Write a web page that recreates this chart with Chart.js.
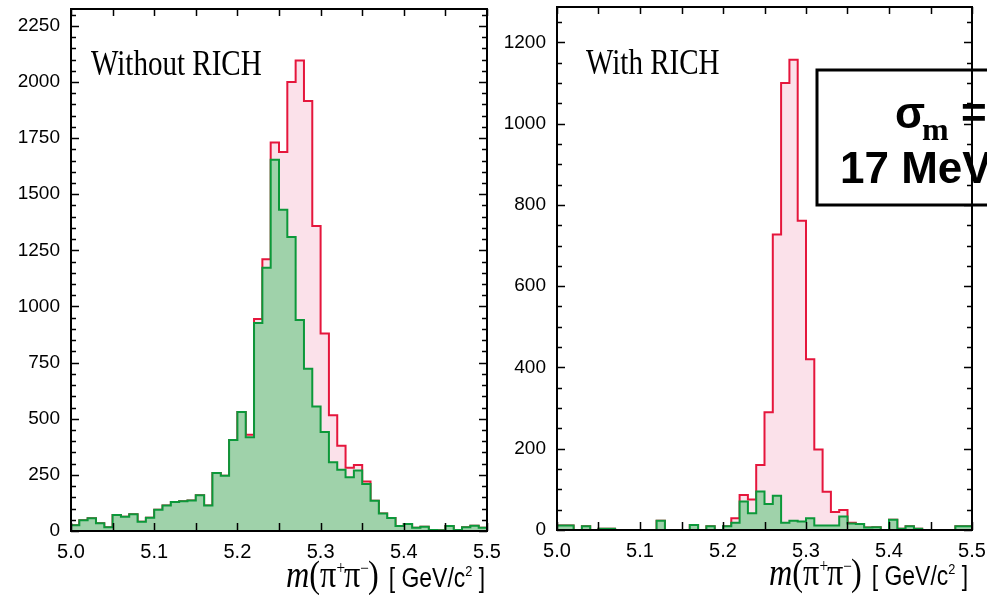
<!DOCTYPE html>
<html>
<head>
<meta charset="utf-8">
<script src="https://cdn.jsdelivr.net/npm/chart.js@4/dist/chart.umd.min.js"></script>
<style>
  html, body { margin: 0; padding: 0; background: #fff; }
  #wrap { position: relative; width: 987px; height: 595px; overflow: hidden; }
  canvas { position: absolute; top: 0; }
</style>
</head>
<body>
<div id="wrap">
  <canvas id="leftChart" width="500" height="595" style="left:0"></canvas>
  <canvas id="rightChart" width="487" height="595" style="left:500px"></canvas>
</div>
<script>
// bin low edges, GeV/c^2 (last entry is the upper edge of the last bin)
const binEdges = [5.00, 5.01, 5.02, 5.03, 5.04, 5.05, 5.06, 5.07, 5.08, 5.09,
                  5.10, 5.11, 5.12, 5.13, 5.14, 5.15, 5.16, 5.17, 5.18, 5.19,
                  5.20, 5.21, 5.22, 5.23, 5.24, 5.25, 5.26, 5.27, 5.28, 5.29,
                  5.30, 5.31, 5.32, 5.33, 5.34, 5.35, 5.36, 5.37, 5.38, 5.39,
                  5.40, 5.41, 5.42, 5.43, 5.44, 5.45, 5.46, 5.47, 5.48, 5.49, 5.50];

// Without RICH: all candidates (red) and the pi-pi part (green)
const noRichAll = [26, 48, 57, 35, 17, 71, 64, 75, 41, 59,
                   95, 114, 129, 132, 136, 159, 114, 258, 246, 405,
                   530, 429, 944, 1210, 1730, 1688, 2000, 2096, 1915, 1358,
                   880, 516, 380, 282, 294, 220, 135, 78, 58, 22,
                   31, 15, 19, 4, 3, 22, 4, 17, 23, 15];
const noRichPid = [26, 48, 57, 35, 17, 71, 64, 75, 41, 59,
                   95, 114, 129, 132, 136, 159, 114, 258, 246, 405,
                   530, 418, 926, 1173, 1654, 1431, 1309, 940, 723, 554,
                   441, 306, 273, 239, 270, 209, 135, 78, 58, 22,
                   31, 15, 19, 4, 3, 22, 4, 17, 23, 15];

// With RICH
const richAll = [11, 11, 0, 9, 0, 3, 3, 0, 0, 0,
                 0, 0, 23, 0, 0, 0, 12, 0, 9, 0,
                 9, 29, 86, 75, 160, 290, 727, 1100, 1157, 761,
                 420, 198, 94, 44, 49, 18, 15, 6, 7, 0,
                 25, 3, 9, 3, 0, 0, 0, 0, 9, 9];
const richPid = [11, 11, 0, 9, 0, 3, 3, 0, 0, 0,
                 0, 0, 23, 0, 0, 0, 12, 0, 9, 0,
                 9, 18, 70, 41, 95, 64, 84, 18, 23, 21,
                 29, 11, 11, 11, 33, 16, 15, 6, 7, 0,
                 25, 3, 9, 3, 0, 0, 0, 0, 9, 9];

const xTickLabels = [5.0, 5.1, 5.2, 5.3, 5.4, 5.5];
const xMinorTicks = [5.0, 5.05, 5.1, 5.15, 5.2, 5.25, 5.3, 5.35, 5.4, 5.45, 5.5];
const yTicksLeft = [0, 250, 500, 750, 1000, 1250, 1500, 1750, 2000, 2250];
const yTicksRight = [0, 200, 400, 600, 800, 1000, 1200];

const RED = '#e5163c';
const PINK = '#fbe1ea';
const GREEN = '#0c983a';
const GREEN_FILL = '#9fd2aa';

function stepPoints(vals) {
    const pts = vals.map((v, i) => ({ x: binEdges[i], y: v }));
    pts.push({ x: binEdges[binEdges.length - 1], y: vals[vals.length - 1] });
    return pts;
}

// draw a string squeezed horizontally (the original fonts are narrow)
function narrowText(ctx, text, x, y, font, sx) {
    ctx.save();
    ctx.font = font;
    ctx.translate(x, y);
    ctx.scale(sx, 1);
    ctx.fillText(text, 0, 0);
    const w = ctx.measureText(text).width * sx;
    ctx.restore();
    return w;
}

function drawMassTitle(ctx, x, y) {
    const serif = 'px "Liberation Serif", "Times New Roman", serif';
    const sans = 'px "Liberation Sans", Arial, sans-serif';
    const s = 0.85;
    ctx.fillStyle = '#000';
    ctx.textBaseline = 'alphabetic';
    ctx.textAlign = 'left';
    x += narrowText(ctx, 'm', x, y, 'italic 38' + serif, s);
    x += narrowText(ctx, '(', x, y, '38' + serif, s);
    x += narrowText(ctx, 'π', x, y, '38' + serif, s);
    x += narrowText(ctx, '+', x, y - 13, '18' + serif, s) - 1;
    x += narrowText(ctx, 'π', x, y, '38' + serif, s);
    x += narrowText(ctx, '−', x, y - 13, '18' + serif, s) - 1;
    x += narrowText(ctx, ')', x, y, '38' + serif, s);
    x += 10;
    x += narrowText(ctx, '[ GeV/c', x, y, '27' + sans, s);
    x += narrowText(ctx, '2', x, y - 11, '15' + sans, s);
    narrowText(ctx, ' ]', x, y, '27' + sans, s);
}

const framePlugin = {
    id: 'frame',
    afterDatasetsDraw(chart, args, opts) {
        if (!opts.box) return;
        const ctx = chart.ctx;
        const b = opts.box;
        ctx.save();
        ctx.fillStyle = '#fff';
        ctx.fillRect(b.x, b.y, b.w, b.h);
        ctx.strokeStyle = '#000';
        ctx.lineWidth = 3;
        ctx.strokeRect(b.x, b.y, b.w, b.h);
        ctx.fillStyle = '#000';
        ctx.textBaseline = 'alphabetic';
        ctx.font = 'bold 44px "Liberation Sans", Arial, sans-serif';
        ctx.fillText('σ', b.x + 78, b.y + 58);
        ctx.font = 'bold 32px "Liberation Serif", "Times New Roman", serif';
        ctx.fillText('m', b.x + 105, b.y + 70);
        ctx.font = 'bold 44px "Liberation Sans", Arial, sans-serif';
        ctx.fillText('=', b.x + 144, b.y + 58);
        ctx.fillText('17 MeV/c²', b.x + 23, b.y + 113);
        ctx.restore();
    },
    afterDraw(chart, args, opts) {
        const ctx = chart.ctx;
        const { left, right, top, bottom } = chart.chartArea;
        const xs = chart.scales.x, ys = chart.scales.y;
        ctx.save();
        ctx.strokeStyle = '#000';
        ctx.lineWidth = 2;
        ctx.strokeRect(left, top, right - left, bottom - top);

        ctx.lineWidth = 1.5;
        ctx.beginPath();
        xMinorTicks.forEach(v => {
            const px = Math.round(xs.getPixelForValue(v)) + 0.5;
            ctx.moveTo(px, bottom); ctx.lineTo(px, bottom - 8);
            ctx.moveTo(px, top); ctx.lineTo(px, top + 7);
        });
        for (let v = 0; v <= ys.max; v += 50) {
            const py = Math.round(ys.getPixelForValue(v)) + 0.5;
            const len = opts.majorY.includes(v) ? 8 : 5;
            ctx.moveTo(left, py); ctx.lineTo(left + len, py);
            ctx.moveTo(right, py); ctx.lineTo(right - len, py);
        }
        ctx.stroke();

        ctx.fillStyle = '#000';
        ctx.textBaseline = 'alphabetic';
        narrowText(ctx, opts.label, opts.labelX, opts.labelY,
                   '35px "Liberation Serif", "Times New Roman", serif', 0.83);
        drawMassTitle(ctx, opts.titleX, opts.titleY);
        ctx.restore();
    }
};

function makePanel(id, allVals, pidVals, yMajor, yMax, pad, yWidth, xHeight, opts) {
    return new Chart(document.getElementById(id), {
        type: 'line',
        data: {
            datasets: [
                {
                    data: stepPoints(pidVals),
                    borderColor: GREEN,
                    backgroundColor: GREEN_FILL,
                    fill: 'origin',
                    borderWidth: 2,
                    stepped: true,
                    pointRadius: 0
                },
                {
                    data: stepPoints(allVals),
                    borderColor: RED,
                    backgroundColor: PINK,
                    fill: 'origin',
                    borderWidth: 2,
                    stepped: true,
                    pointRadius: 0
                }
            ]
        },
        options: {
            responsive: false,
            animation: false,
            layout: { padding: pad },
            plugins: {
                legend: { display: false },
                tooltip: { enabled: false },
                frame: opts
            },
            scales: {
                x: {
                    type: 'linear',
                    min: 5.0,
                    max: 5.5,
                    grid: { display: false, drawTicks: false },
                    border: { display: false },
                    afterBuildTicks: s => { s.ticks = xTickLabels.map(v => ({ value: v })); },
                    afterFit: s => { s.height = xHeight; s.paddingLeft = 0; s.paddingRight = 0; },
                    ticks: {
                        color: '#000',
                        padding: 9,
                        maxRotation: 0,
                        font: { family: '"Liberation Sans", Arial, sans-serif', size: 20 },
                        callback: v => v.toFixed(1)
                    }
                },
                y: {
                    min: 0,
                    max: yMax,
                    grid: { display: false, drawTicks: false },
                    border: { display: false },
                    afterBuildTicks: s => { s.ticks = yMajor.map(v => ({ value: v })); },
                    afterFit: s => { s.width = yWidth; s.paddingTop = 0; s.paddingBottom = 0; },
                    ticks: {
                        color: '#000',
                        padding: 11,
                        font: { family: '"Liberation Sans", Arial, sans-serif', size: 19 },
                        callback: v => String(v)
                    }
                }
            }
        },
        plugins: [framePlugin]
    });
}

makePanel('leftChart', noRichAll, noRichPid, yTicksLeft, 2325,
    { top: 9, right: 13, left: 0, bottom: 0 }, 71, 64,
    { majorY: yTicksLeft, label: 'Without RICH', labelX: 91, labelY: 75, titleX: 286, titleY: 587 });

makePanel('rightChart', richAll, richPid, yTicksRight, 1287,
    { top: 7, right: 15, left: 0, bottom: 0 }, 57, 65,
    { majorY: yTicksRight, label: 'With RICH', labelX: 86, labelY: 74, titleX: 269, titleY: 585,
      box: { x: 317, y: 70, w: 300, h: 135 } });
</script>
</body>
</html>
